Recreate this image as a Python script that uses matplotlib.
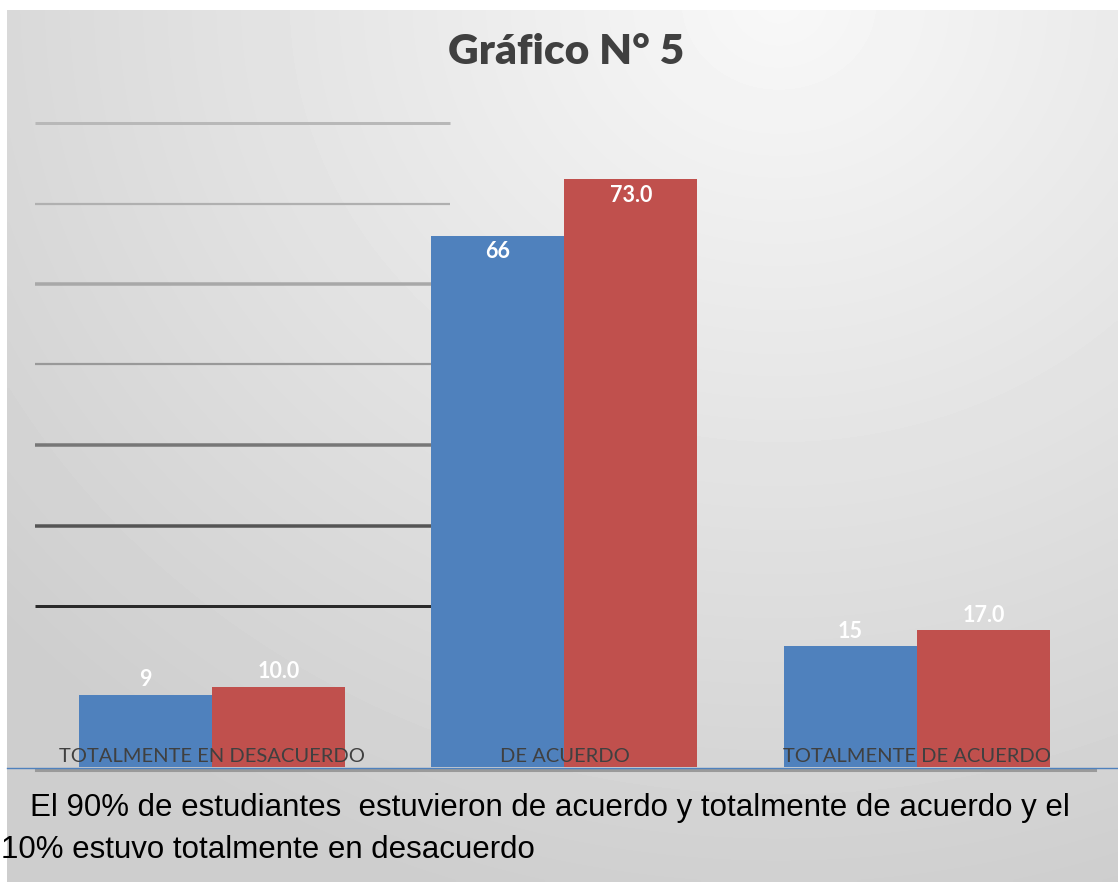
import numpy as np
import matplotlib
matplotlib.use('Agg')
import matplotlib.pyplot as plt

# datos
categorias = ['TOTALMENTE EN DESACUERDO', 'DE ACUERDO', 'TOTALMENTE DE ACUERDO']
serie_1 = [9, 66, 15]
serie_2 = [10.0, 73.0, 17.0]
etiq_1 = ['9', '66', '15']
etiq_2 = ['10.0', '73.0', '17.0']
niveles = [20, 30, 40, 50, 60, 70, 80]
titulo = 'Gráfico N° 5'
texto_1 = 'El 90% de estudiantes  estuvieron de acuerdo y totalmente de acuerdo y el'
texto_2 = '10% estuvo totalmente en desacuerdo'

W, H = 1118, 882
azul = '#4F81BD'
rojo = '#C0504D'

fig = plt.figure(figsize=(W/100, H/100), dpi=100)
fig.patch.set_facecolor('white')

# fondo degradado
bg = fig.add_axes([7/W, 0, (W-7)/W, (H-10)/H])
yy, xx = np.mgrid[0:200, 0:250]
px = 7 + xx/249*(W-7)
py = 10 + yy/199*(H-10)
d = np.sqrt(((px-780)*0.9)**2 + ((py-0)*1.0)**2)
val = np.clip(248 - d*0.045, 206, 250)/255.
bg.imshow(val, cmap='gray', vmin=0, vmax=1, aspect='auto', interpolation='bilinear')
bg.axis('off')

# ejes principales (pixeles -> fracciones)
base_px = 767
ppu = 8.05
ymax = 85
x0_px, dx_px = 212, 352.5
ax = fig.add_axes([7/W, (H-base_px)/H, (W-7)/W, ymax*ppu/H])
ax.set_xlim(-(212-7)/dx_px, 2 + (W-917)/dx_px)
ax.set_ylim(0, ymax)
ax.patch.set_alpha(0)
ax.axis('off')

colores_lineas = ['#2a2a2a', '#555555', '#777777', '#999999', '#a8a8a8', '#b0b0b0', '#b8b8b8']
anchos = [3, 3.5, 3.5, 2.2, 3.5, 2.2, 3]
for n, c, w in zip(niveles, colores_lineas, anchos):
    ax.hlines(n, (35-x0_px)/dx_px, (450-x0_px)/dx_px, color=c, lw=w*0.72, zorder=1)

x = np.arange(len(categorias))
bw = 133/dx_px
b1 = ax.bar(x - bw/2, serie_1, bw, color=azul, zorder=2)
b2 = ax.bar(x + bw/2, serie_2, bw, color=rojo, zorder=2)

for barras, etiqs in [(b1, etiq_1), (b2, etiq_2)]:
    for b, t in zip(barras, etiqs):
        h = b.get_height()
        if h > 50:
            yy_ = h - 16/ppu
        else:
            yy_ = h + 15/ppu
        ax.text(b.get_x() + b.get_width()/2, yy_, t, ha='center', va='center',
                color='white', fontsize=15.5, fontweight='bold', family='Lato', zorder=4)

for i, c in enumerate(categorias):
    ax.text(i, 10/ppu, c, ha='center', va='center', color='#404040',
            fontsize=14.5, family='Lato', zorder=4)

# lineas del eje
fig.add_artist(plt.Line2D([36/W, 1095/W], [(H-770)/H]*2, color='#9a9a9a', lw=2.2))
fig.add_artist(plt.Line2D([7/W, 1], [(H-767.5)/H]*2, color=azul, lw=1.0))

fig.text(566/W, (H-52)/H, titulo, ha='center', va='center', fontsize=30.5,
         fontweight='heavy', color='#404040', family='Lato')

fig.text(30/W, (H-808)/H, texto_1, ha='left', va='center', fontsize=22.5,
         color='black', family='Liberation Sans')
fig.text(1/W, (H-850)/H, texto_2, ha='left', va='center', fontsize=22.5,
         color='black', family='Liberation Sans')

fig.savefig('out.png', dpi=100)
